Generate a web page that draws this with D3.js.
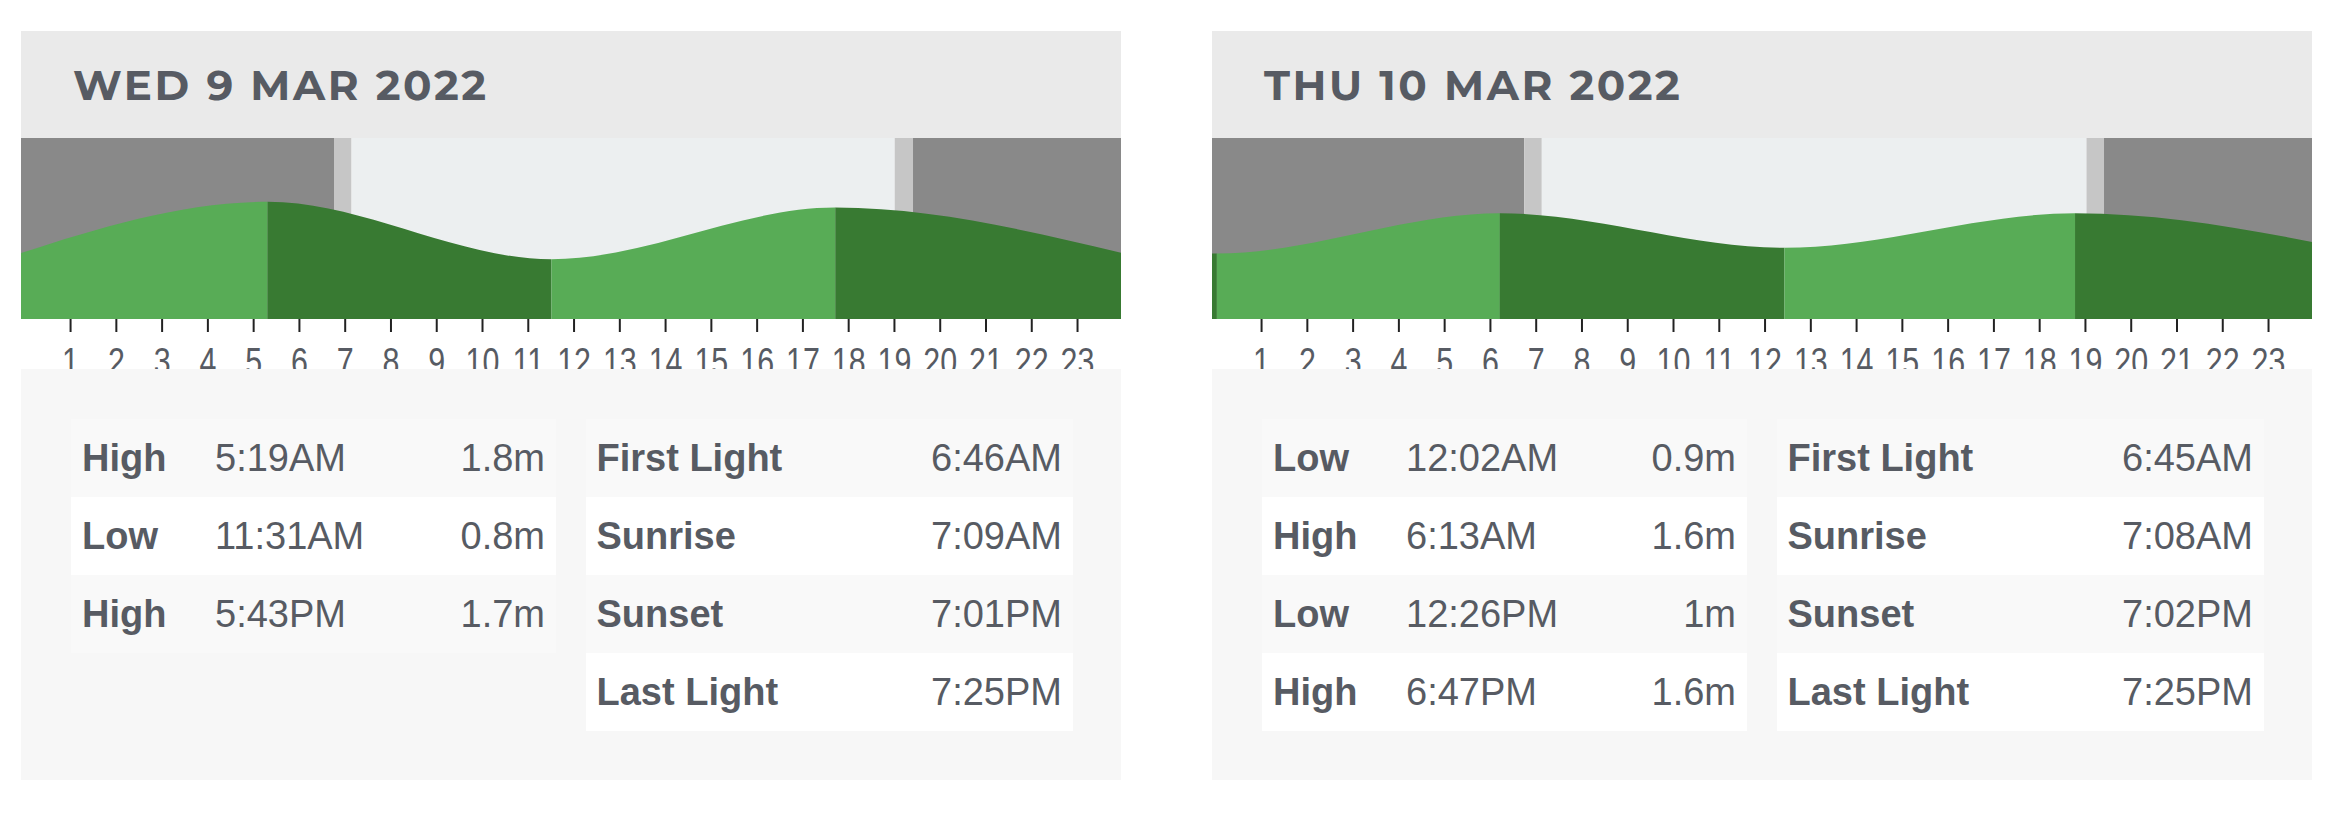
<!DOCTYPE html>
<html>
<head>
<meta charset="utf-8">
<script src="https://cdn.jsdelivr.net/npm/d3@7"></script>
<style>
  body { margin: 0; background: #fff; }
  svg { display: block; }
</style>
</head>
<body>
<svg id="tides" width="2346" height="819"></svg>
<script>
// --- data ---
var dayTitles = ["WED 9 MAR 2022", "THU 10 MAR 2022"];
var hourTicks = [1, 2, 3, 4, 5, 6, 7, 8, 9, 10, 11, 12, 13, 14, 15, 16, 17, 18, 19, 20, 21, 22, 23];

var wedTideType = ["High", "Low", "High"];
var wedTideTime = ["5:19AM", "11:31AM", "5:43PM"];
var wedTideHeight = [1.8, 0.8, 1.7];
// extremes just outside the day (hours relative to midnight), estimated from the curve ends
var wedTideEdges = [[-0.67, 0.75], [24.03, 0.9]];

var thuTideType = ["Low", "High", "Low", "High"];
var thuTideTime = ["12:02AM", "6:13AM", "12:26PM", "6:47PM"];
var thuTideHeight = [0.9, 1.6, 1, 1.6];
var thuTideEdges = [[-6.28, 1.7], [24.92, 0.95]];

var sunLabels = ["First Light", "Sunrise", "Sunset", "Last Light"];
var wedSunTime = ["6:46AM", "7:09AM", "7:01PM", "7:25PM"];
var thuSunTime = ["6:45AM", "7:08AM", "7:02PM", "7:25PM"];

var days = [
  {title: dayTitles[0], type: wedTideType, time: wedTideTime, height: wedTideHeight, edges: wedTideEdges, sun: wedSunTime},
  {title: dayTitles[1], type: thuTideType, time: thuTideTime, height: thuTideHeight, edges: thuTideEdges, sun: thuSunTime}
];

// --- layout ---
var svg = d3.select("#tides"),
    panelW = 1100,
    panelX = [21, 1212],
    headTop = 31, chartTop = 138, chartBottom = 319, tableTop = 369, panelBottom = 780,
    rowTop = 419, rowH = 78,
    textColor = "#575b63";

var lightGreen = "#58ac56", darkGreen = "#387a32";

function toHours(s) {
  var m = s.match(/(\d+):(\d+)(AM|PM)/);
  var h = (+m[1]) % 12;
  if (m[3] == "PM") h += 12;
  return h + (+m[2]) / 60;
}

var y = d3.scaleLinear().domain([-0.24, 2.91]).range([chartBottom, chartTop]);

days.forEach(function(day, i) {
  var left = panelX[i];
  var g = svg.append("g");

  var x = d3.scaleLinear().domain([0, 24]).range([left + 3.3, left + panelW + 1.8]);

  /* header */
  g.append("rect")
      .attr("x", left).attr("y", headTop)
      .attr("width", panelW).attr("height", chartTop - headTop)
      .attr("fill", "#eaeaea");

  g.append("text")
      .attr("x", left + 52).attr("y", 100)
      .attr("font-family", "Montserrat, 'Open Sans', sans-serif")
      .attr("font-weight", 700)
      .attr("font-size", 42)
      .attr("letter-spacing", "2.6px")
      .attr("fill", textColor)
      .text(day.title);

  /* chart */
  g.append("clipPath").attr("id", "chart-clip-" + i)
    .append("rect")
      .attr("x", left).attr("y", chartTop)
      .attr("width", panelW).attr("height", chartBottom - chartTop);

  var chart = g.append("g").attr("clip-path", "url(#chart-clip-" + i + ")");

  var sun = day.sun.map(toHours);
  var bands = [
    {from: 0, to: sun[0], fill: "#898989"},
    {from: sun[0], to: sun[1], fill: "#c6c6c6"},
    {from: sun[1], to: sun[2], fill: "#eceff0"},
    {from: sun[2], to: sun[3], fill: "#c6c6c6"},
    {from: sun[3], to: 24, fill: "#898989"}
  ];

  chart.selectAll("rect.band")
    .data(bands)
    .enter().append("rect")
      .attr("class", "band")
      .attr("x", function(d) { return d.from == 0 ? left : x(d.from); })
      .attr("y", chartTop)
      .attr("width", function(d) { return (d.to == 24 ? left + panelW : x(d.to)) - (d.from == 0 ? left : x(d.from)); })
      .attr("height", chartBottom - chartTop)
      .attr("fill", function(d) { return d.fill; });

  var pts = [{t: day.edges[0][0], h: day.edges[0][1]}]
    .concat(day.time.map(function(t, j) { return {t: toHours(t), h: day.height[j]}; }))
    .concat([{t: day.edges[1][0], h: day.edges[1][1]}]);

  var area = d3.area()
      .x(function(d) { return x(d.t); })
      .y0(chartBottom)
      .y1(function(d) { return y(d.h); })
      .curve(d3.curveMonotoneX);

  g.append("clipPath").attr("id", "tide-clip-" + i)
    .append("path")
      .attr("d", area(pts));

  /* rising = light green, falling = dark green */
  var segs = d3.pairs(pts);
  chart.append("g")
      .attr("clip-path", "url(#tide-clip-" + i + ")")
    .selectAll("rect")
    .data(segs)
    .enter().append("rect")
      .attr("x", function(d) { return x(d[0].t); })
      .attr("y", chartTop)
      .attr("width", function(d) { return x(d[1].t) - x(d[0].t); })
      .attr("height", chartBottom - chartTop)
      .attr("fill", function(d) { return d[1].h > d[0].h ? lightGreen : darkGreen; });

  /* hour axis */
  var axis = g.append("g")
      .attr("transform", "translate(0," + chartBottom + ")")
      .call(d3.axisBottom(x).tickValues(hourTicks).tickSize(13).tickPadding(16).tickFormat(d3.format("d")));
  axis.select(".domain").remove();
  axis.selectAll(".tick line").attr("stroke", "#222").attr("stroke-width", 2);
  axis.selectAll(".tick text")
      .attr("fill", "#333")
      .attr("font-family", "'Liberation Sans', Arial, sans-serif")
      .attr("font-size", 28)
      .attr("transform", "scale(0.8,1)");

  /* tables */
  g.append("rect")
      .attr("x", left).attr("y", tableTop)
      .attr("width", panelW).attr("height", panelBottom - tableTop)
      .attr("fill", "#f7f7f7");

  var tideTable = g.append("g").attr("transform", "translate(" + (left + 50) + ",0)");
  var tideRows = tideTable.selectAll("g")
    .data(day.type.map(function(t, j) { return [t, day.time[j], day.height[j] + "m"]; }))
    .enter().append("g")
      .attr("transform", function(d, j) { return "translate(0," + (rowTop + j * rowH) + ")"; });

  tideRows.append("rect")
      .attr("width", 485).attr("height", rowH)
      .attr("fill", function(d, j) { return j % 2 ? "#ffffff" : "#f9f9f9"; });
  tideRows.append("text")
      .attr("x", 11).attr("y", 52)
      .attr("font-weight", "bold")
      .text(function(d) { return d[0]; });
  tideRows.append("text")
      .attr("x", 144).attr("y", 52)
      .text(function(d) { return d[1]; });
  tideRows.append("text")
      .attr("x", 474).attr("y", 52)
      .attr("text-anchor", "end")
      .text(function(d) { return d[2]; });

  var sunTable = g.append("g").attr("transform", "translate(" + (left + 565) + ",0)");
  var sunRows = sunTable.selectAll("g")
    .data(sunLabels.map(function(l, j) { return [l, day.sun[j]]; }))
    .enter().append("g")
      .attr("transform", function(d, j) { return "translate(0," + (rowTop + j * rowH) + ")"; });

  sunRows.append("rect")
      .attr("width", 487).attr("height", rowH)
      .attr("fill", function(d, j) { return j % 2 ? "#ffffff" : "#f9f9f9"; });
  sunRows.append("text")
      .attr("x", 10.5).attr("y", 52)
      .attr("font-weight", "bold")
      .text(function(d) { return d[0]; });
  sunRows.append("text")
      .attr("x", 476).attr("y", 52)
      .attr("text-anchor", "end")
      .text(function(d) { return d[1]; });

  g.selectAll("g > g > text")
      .attr("font-family", "'Liberation Sans', Arial, sans-serif")
      .attr("font-size", 38)
      .attr("fill", textColor);
});
</script>
</body>
</html>
